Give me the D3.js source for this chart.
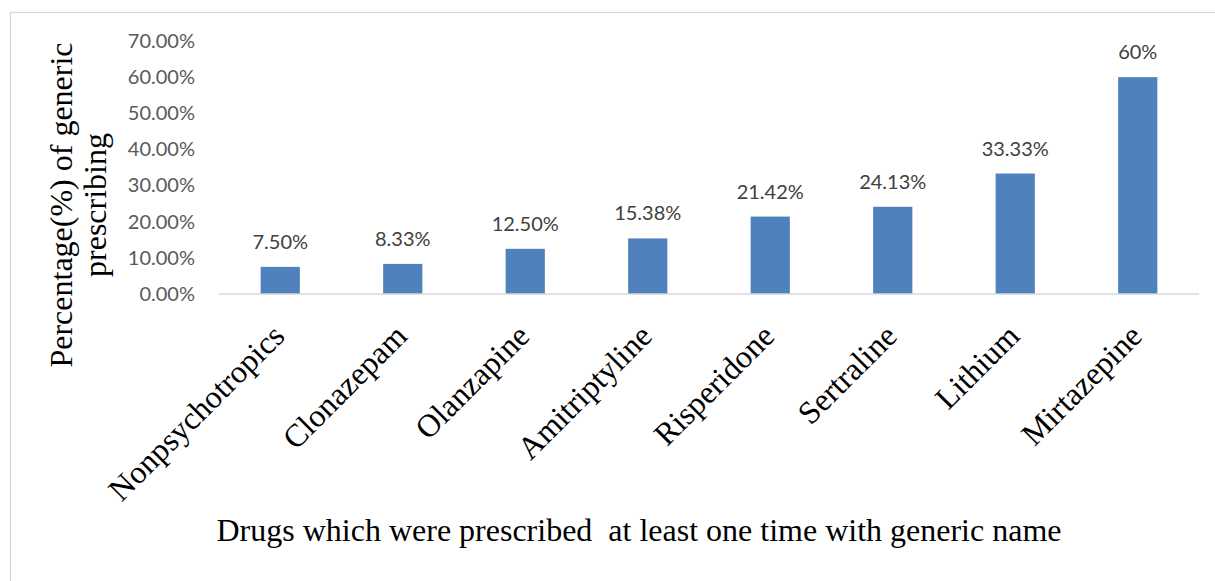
<!DOCTYPE html>
<html>
<head>
<meta charset="utf-8">
<script src="https://cdn.jsdelivr.net/npm/d3@7"></script>
<style>
    body { margin: 0; background: #fff; }
    svg { display: block; }
</style>
</head>
<body>
<div id="chart"></div>
<script>
// data
const drugs = ["Nonpsychotropics", "Clonazepam", "Olanzapine", "Amitriptyline",
    "Risperidone", "Sertraline", "Lithium", "Mirtazepine"];
const genericPct = [7.50, 8.33, 12.50, 15.38, 21.42, 24.13, 33.33, 60];
const valueLabels = ["7.50%", "8.33%", "12.50%", "15.38%", "21.42%", "24.13%", "33.33%", "60%"];
const yTicks = [0, 10, 20, 30, 40, 50, 60, 70];
const yTitleLines = ["Percentage(%) of generic", "prescribing"];
const xTitle = "Drugs which were prescribed  at least one time with generic name";

class BarVis {
    constructor(_parentElement) {
        this.parentElement = _parentElement;
        this.initVis();
    }

    initVis() {
        let vis = this;

        vis.W = 1215;
        vis.H = 581;
        vis.plot = { left: 219, right: 1199, top: 41, bottom: 294 };

        vis.svg = d3.select("#" + vis.parentElement).append("svg")
            .attr("width", vis.W)
            .attr("height", vis.H);

        // chart frame
        vis.svg.append("rect")
            .attr("x", 10.5)
            .attr("y", 12.5)
            .attr("width", vis.W)
            .attr("height", vis.H)
            .attr("fill", "none")
            .attr("stroke", "#d9d9d9")
            .attr("stroke-width", 1.3);

        vis.x = d3.scaleBand()
            .domain(drugs)
            .range([vis.plot.left, vis.plot.right])
            .paddingInner(0.68)
            .paddingOuter(0.34);

        vis.y = d3.scaleLinear()
            .domain([0, 70])
            .range([vis.plot.bottom, vis.plot.top]);

        // y axis labels only
        vis.yAxis = d3.axisLeft(vis.y)
            .tickValues(yTicks)
            .tickSize(0)
            .tickPadding(0)
            .tickFormat(d => d.toFixed(2) + "%");

        vis.yAxisGroup = vis.svg.append("g")
            .attr("transform", "translate(195,0)")
            .call(vis.yAxis);
        vis.yAxisGroup.select(".domain").remove();
        vis.yAxisGroup.selectAll("text")
            .style("font-family", "Lato, 'Open Sans', sans-serif")
            .style("font-size", "20px")
            .style("fill", "#595959");

        // bars
        vis.svg.selectAll(".bar")
            .data(genericPct)
            .enter().append("rect")
            .attr("class", "bar")
            .attr("x", (d, i) => vis.x(drugs[i]))
            .attr("y", d => vis.y(d))
            .attr("width", vis.x.bandwidth())
            .attr("height", d => vis.y(0) - vis.y(d))
            .attr("fill", "#4f81bd");

        // baseline
        vis.svg.append("line")
            .attr("x1", vis.plot.left)
            .attr("x2", vis.plot.right)
            .attr("y1", vis.y(0))
            .attr("y2", vis.y(0))
            .attr("stroke", "#d9d9d9")
            .attr("stroke-width", 1.5);

        // value labels
        vis.svg.selectAll(".val")
            .data(genericPct)
            .enter().append("text")
            .attr("class", "val")
            .attr("x", (d, i) => vis.x(drugs[i]) + vis.x.bandwidth() / 2)
            .attr("y", d => vis.y(d) - 18)
            .attr("text-anchor", "middle")
            .style("font-family", "Lato, 'Open Sans', sans-serif")
            .style("font-size", "20px")
            .style("fill", "#404040")
            .text((d, i) => valueLabels[i]);

        // category labels, rotated
        vis.svg.selectAll(".cat")
            .data(drugs)
            .enter().append("text")
            .attr("class", "cat")
            .attr("transform", d => `translate(${vis.x(d) + vis.x.bandwidth() / 2 + 6}, 338) rotate(-45)`)
            .attr("text-anchor", "end")
            .style("font-family", "'Liberation Serif', 'Times New Roman', serif")
            .style("font-size", "32px")
            .style("fill", "#000")
            .text(d => d);

        // y title
        vis.svg.selectAll(".ytitle")
            .data(yTitleLines)
            .enter().append("text")
            .attr("class", "ytitle")
            .attr("transform", (d, i) => `translate(${72 + i * 34}, 205) rotate(-90)`)
            .attr("text-anchor", "middle")
            .style("font-family", "'Liberation Serif', 'Times New Roman', serif")
            .style("font-size", "32px")
            .style("fill", "#000")
            .text(d => d);

        // x title
        vis.svg.append("text")
            .attr("x", 639)
            .attr("y", 541)
            .attr("text-anchor", "middle")
            .style("font-family", "'Liberation Serif', 'Times New Roman', serif")
            .style("font-size", "32px")
            .style("white-space", "pre")
            .style("fill", "#000")
            .text(xTitle);
    }
}

let myBarVis = new BarVis("chart");
</script>
</body>
</html>
